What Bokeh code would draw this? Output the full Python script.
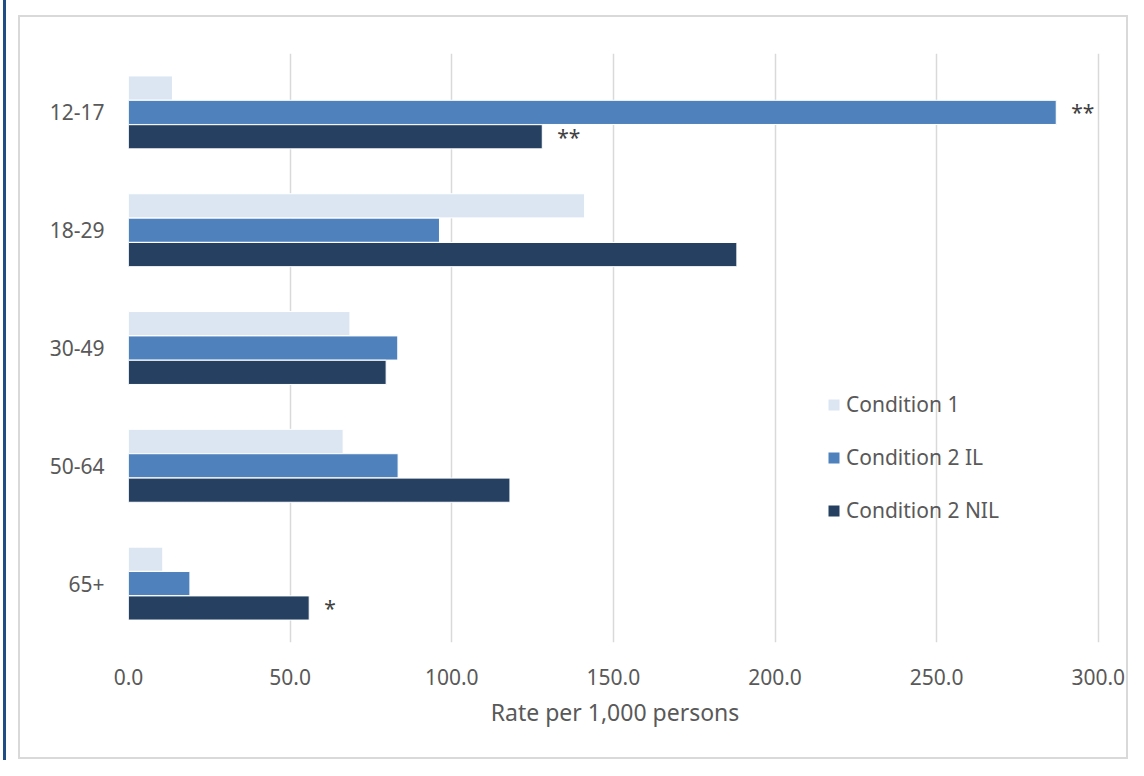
from bokeh.plotting import figure
from bokeh.models import (ColumnDataSource, FactorRange, Range1d, FixedTicker,
                          PrintfTickFormatter, Legend, LegendItem)
from bokeh.transform import dodge
from bokeh.core.properties import value
from bokeh.embed import file_html
from bokeh.resources import INLINE

# ---- data ----
age_groups = ["12-17", "18-29", "30-49", "50-64", "65+"]
condition_1 = [13.6, 141.1, 68.5, 66.4, 10.6]
condition_2_il = [287.0, 96.2, 83.3, 83.4, 19.0]
condition_2_nil = [128.0, 188.2, 79.7, 118.0, 55.9]
il_notes = ["**", "", "", "", ""]
nil_notes = ["**", "", "", "", "*"]
x_ticks = [0, 50, 100, 150, 200, 250, 300]
series_names = ["Condition 1", "Condition 2 IL", "Condition 2 NIL"]
colors = ["#dce6f2", "#4f81bd", "#254061"]

FONT = "Noto Sans"
TXT = "#595959"

src = ColumnDataSource(dict(age=age_groups, c1=condition_1, il=condition_2_il,
                            nil=condition_2_nil, il_note=il_notes, nil_note=nil_notes))

p = figure(width=1128, height=760,
           y_range=FactorRange(factors=list(reversed(age_groups))),
           x_range=Range1d(0, 301),
           output_backend="svg", toolbar_location=None,
           min_border_left=128, min_border_right=27,
           min_border_top=53, min_border_bottom=118)
p.outline_line_color = None
p.background_fill_color = None
p.border_fill_color = None
# chart-area frame and left accent line drawn behind the transparent canvas
p.styles = {
    "background": (
        "linear-gradient(#1f4e85,#1f4e85) 3px 0px / 3px 100% no-repeat, "
        "linear-gradient(#d9d9d9,#d9d9d9) 18px 15px / 1110px 2px no-repeat, "
        "linear-gradient(#d9d9d9,#d9d9d9) 18px 757px / 1110px 2px no-repeat, "
        "linear-gradient(#d9d9d9,#d9d9d9) 18px 15px / 2px 744px no-repeat, "
        "linear-gradient(#d9d9d9,#d9d9d9) 1126px 15px / 2px 744px no-repeat, "
        "#ffffff"
    )
}

bar_h = 0.205
step = 0.207
r1 = p.hbar(y=dodge("age", step, range=p.y_range), left=0, right="c1", height=bar_h,
            source=src, fill_color=colors[0], line_color="white", line_width=1)
r2 = p.hbar(y=dodge("age", 0, range=p.y_range), left=0, right="il", height=bar_h,
            source=src, fill_color=colors[1], line_color="white", line_width=1)
r3 = p.hbar(y=dodge("age", -step, range=p.y_range), left=0, right="nil", height=bar_h,
            source=src, fill_color=colors[2], line_color="white", line_width=1)

# significance notes
p.text(x="il", y=dodge("age", 0, range=p.y_range), text="il_note", source=src,
       x_offset=15, text_baseline="middle", text_align="left",
       text_font=value(FONT), text_font_size="21px", text_color="#404040")
p.text(x="nil", y=dodge("age", -step, range=p.y_range), text="nil_note", source=src,
       x_offset=15, text_baseline="middle", text_align="left",
       text_font=value(FONT), text_font_size="21px", text_color="#404040")

# grid
p.ygrid.grid_line_color = None
p.xgrid.ticker = FixedTicker(ticks=x_ticks)
p.xgrid.grid_line_color = "#d9d9d9"
p.xgrid.grid_line_width = 1.5

# axes
for ax in (p.xaxis[0], p.yaxis[0]):
    ax.axis_line_color = None
    ax.major_tick_line_color = None
    ax.minor_tick_line_color = None
    ax.major_tick_out = 0
    ax.major_tick_in = 0
    ax.minor_tick_out = 0
    ax.major_label_text_font = FONT
    ax.major_label_text_font_size = "21px"
    ax.major_label_text_color = TXT

p.xaxis.ticker = FixedTicker(ticks=x_ticks)
p.xaxis.formatter = PrintfTickFormatter(format="%.1f")
p.xaxis.major_label_standoff = 26
p.xaxis.axis_label = "Rate per 1,000 persons"
p.xaxis.axis_label_text_font = FONT
p.xaxis.axis_label_text_font_size = "23px"
p.xaxis.axis_label_text_font_style = "normal"
p.xaxis.axis_label_text_color = TXT
p.xaxis.axis_label_standoff = 8
p.yaxis.major_label_standoff = 24

# legend
legend = Legend(items=[LegendItem(label=series_names[0], renderers=[r1]),
                       LegendItem(label=series_names[1], renderers=[r2]),
                       LegendItem(label=series_names[2], renderers=[r3])],
                location=(698, 118), orientation="vertical")
legend.glyph_width = 15
legend.glyph_height = 15
legend.label_standoff = 5
legend.label_text_font = FONT
legend.label_text_font_size = "21px"
legend.label_text_color = TXT
legend.spacing = 25
legend.padding = 0
legend.margin = 0
legend.border_line_color = None
legend.background_fill_alpha = 0
p.add_layout(legend)

open("out.html", "w").write(file_html(p, INLINE))
